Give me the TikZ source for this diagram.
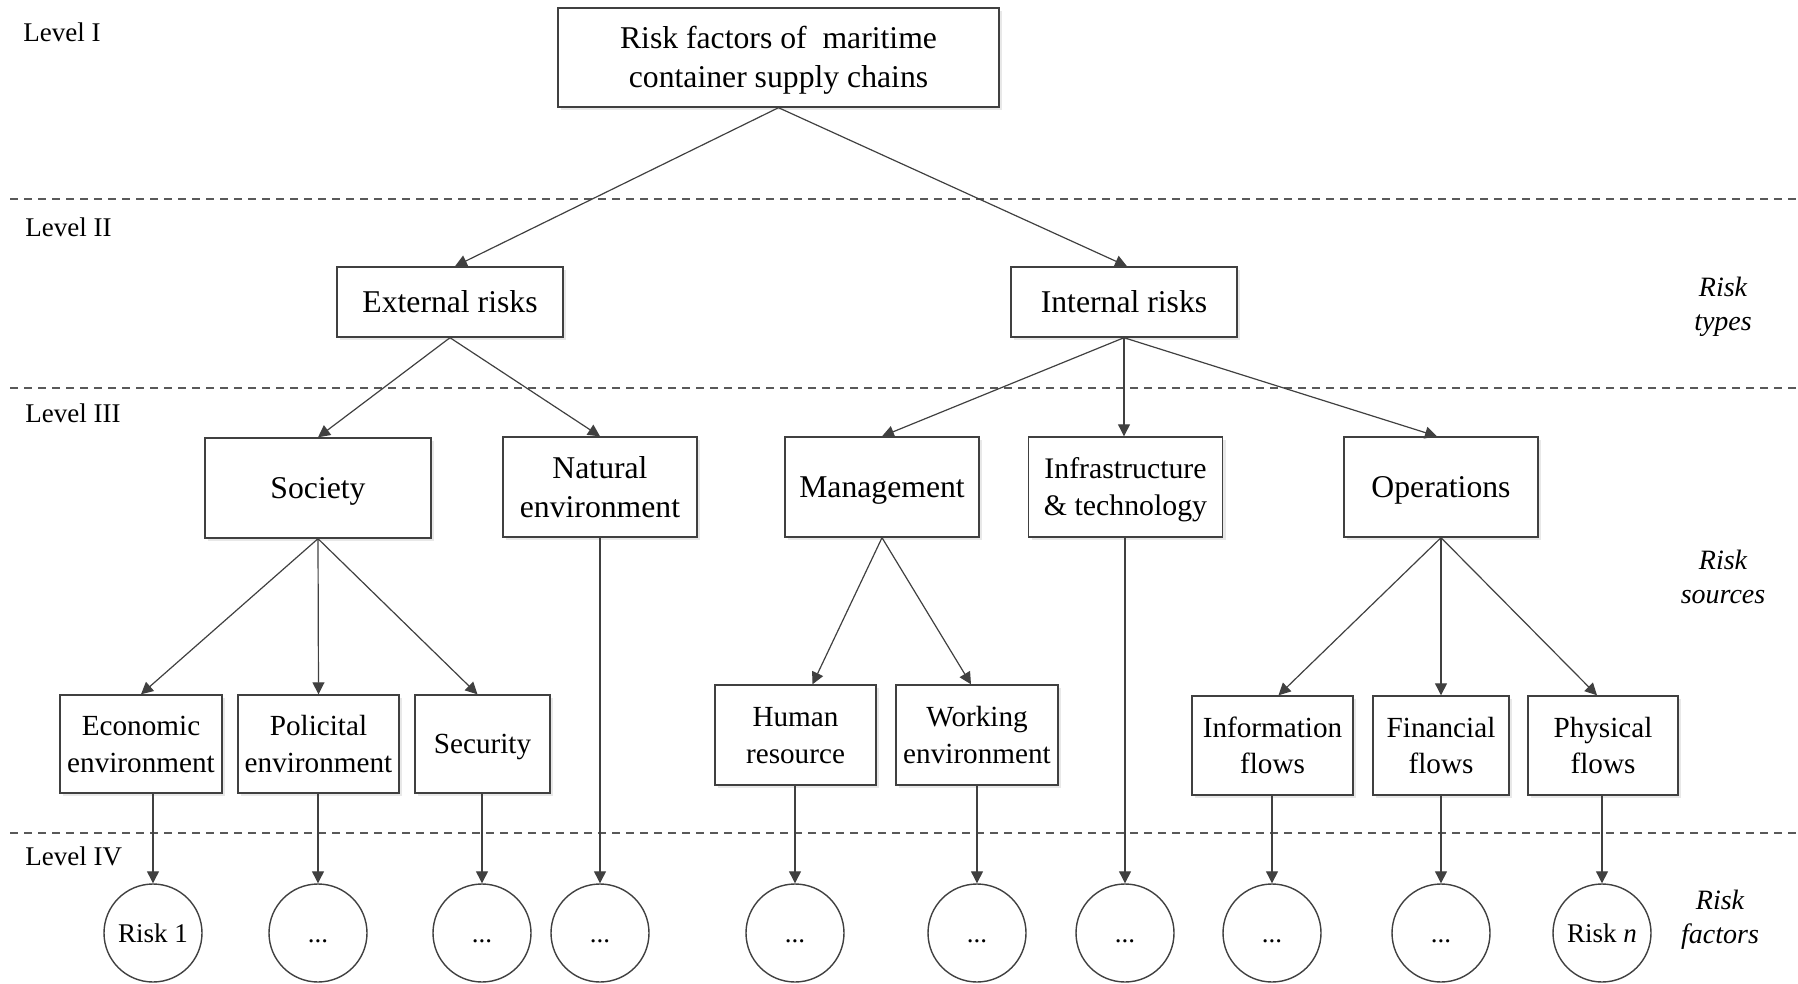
\documentclass[tikz,border=0pt]{standalone}
\usepackage{fontspec}
\setmainfont{Liberation Serif}
\usetikzlibrary{arrows.meta,shadows,calc}
\newcommand\vstrut{\rule[-0.216em]{0pt}{1.107em}}
\begin{document}
\begin{tikzpicture}[x=0.5pt,y=-0.5pt,
  box/.style={draw=black!75, line width=0.7pt, fill=white, align=center, inner sep=0pt,
    font=\fontsize{15.85}{19.5}\selectfont,
    drop shadow={shadow xshift=1.5pt, shadow yshift=-1.5pt, fill=black!18}},
  sbox/.style={box, font=\fontsize{14.6}{18.3}\selectfont},
  riskc/.style={circle, draw=black!75, line width=0.7pt, minimum size=49pt, inner sep=0pt,
    font=\fontsize{13.5}{16}\selectfont},
  lvl/.style={anchor=base west, inner sep=0pt, font=\fontsize{13.5}{16}\selectfont},
  side/.style={align=center, anchor=north, inner sep=0pt, font=\fontsize{14}{17}\selectfont\itshape},
  arr/.style={draw=black!75, line width=0.6pt, -{Triangle[length=6pt,width=6pt]}},
  dline/.style={draw=black!65, line width=0.6pt, dash pattern=on 4pt off 3pt}
]
\useasboundingbox (0,0) rectangle (1798,984);

% dashed separators
\draw[dline] (10,199) -- (1798,199);
\draw[dline] (10,388) -- (1798,388);
\draw[dline] (10,833) -- (1798,833);

% level labels
\node[lvl] (l1) at (23,42) {Level I};
\node[lvl] (l2) at (25,237) {Level II};
\node[lvl] (l3) at (25,422) {Level III};
\node[lvl] (l4) at (25,865) {Level IV};

% side labels
\node[side] (st) at (1723,271) {\vstrut Risk\\types};
\node[side] (ss) at (1723,544) {\vstrut Risk\\sources};
\node[side] (sf) at (1720,884) {\vstrut Risk\\factors};

% level I
\node[box, minimum width=220.5pt, minimum height=49.5pt] (top) at (778.5,57.5)
  {\vstrut Risk factors of \ maritime\\\vstrut container supply chains};

% level II
\node[box, minimum width=113pt, minimum height=35pt] (ext) at (450,302) {\vstrut External risks};
\node[box, minimum width=113pt, minimum height=35pt] (int) at (1124,302) {\vstrut Internal risks};

% level III
\node[box, minimum width=113pt, minimum height=50pt] (soc) at (318,488) {\vstrut Society};
\node[box, minimum width=97pt, minimum height=50pt] (nat) at (600,487) {\vstrut Natural\\\vstrut environment};
\node[box, minimum width=97pt, minimum height=50pt] (man) at (882,487) {\vstrut Management};
\node[box, minimum width=97pt, minimum height=50pt, font=\fontsize{14.9}{18.8}\selectfont] (inf) at (1125.5,487) {\vstrut Infrastructure\\\vstrut \& technology};
\node[box, minimum width=97pt, minimum height=50pt] (ops) at (1441,487) {\vstrut Operations};

% sub-sources
\node[sbox, minimum width=81pt, minimum height=49pt] (eco) at (141,744) {\vstrut Economic\\\vstrut environment};
\node[sbox, minimum width=80.5pt, minimum height=49pt] (pol) at (318.5,744) {\vstrut Policital\\\vstrut environment};
\node[sbox, minimum width=67.5pt, minimum height=49pt] (sec) at (482.5,744) {\vstrut Security};
\node[sbox, minimum width=80.5pt, minimum height=50pt] (hum) at (795.5,735) {\vstrut Human\\\vstrut resource};
\node[sbox, minimum width=81pt, minimum height=50pt] (wor) at (977,735) {\vstrut Working\\\vstrut environment};
\node[sbox, minimum width=80.5pt, minimum height=49.5pt] (info) at (1272.5,745.5) {\vstrut Information\\\vstrut flows};
\node[sbox, minimum width=68pt, minimum height=49.5pt] (fin) at (1441,745.5) {\vstrut Financial\\\vstrut flows};
\node[sbox, minimum width=75pt, minimum height=49.5pt] (phy) at (1603,745.5) {\vstrut Physical\\\vstrut flows};

% risk factors
\node[riskc] (r1) at (153,933) {\vstrut Risk 1};
\node[riskc] (r2) at (318,933) {\vstrut ...};
\node[riskc] (r3) at (482,933) {\vstrut ...};
\node[riskc] (r4) at (600,933) {\vstrut ...};
\node[riskc] (r5) at (795,933) {\vstrut ...};
\node[riskc] (r6) at (977,933) {\vstrut ...};
\node[riskc] (r7) at (1125,933) {\vstrut ...};
\node[riskc] (r8) at (1272,933) {\vstrut ...};
\node[riskc] (r9) at (1441,933) {\vstrut ...};
\node[riskc] (r10) at (1602,933) {\vstrut Risk \textit{n}};

% connectors
\draw[arr] (top.south) -- ($(ext.north)+(5,0)$);
\draw[arr] (top.south) -- ($(int.north)+(3,0)$);
\draw[arr] (ext.south) -- (soc.north);
\draw[arr] (ext.south) -- (nat.north);
\draw[arr] (int.south) -- (man.north);
\draw[arr] (int.south) -- (int.south |- inf.north);
\draw[arr] (int.south) -- ($(ops.north)+(-4,0)$);
\draw[arr] (soc.south) -- (eco.north);
\draw[arr] (soc.south) -- (pol.north);
\draw[arr] (soc.south) -- ($(sec.north)+(-5,0)$);
\draw[arr] (man.south) -- ($(hum.north)+(17,0)$);
\draw[arr] (man.south) -- ($(wor.north)+(-6,0)$);
\draw[arr] (ops.south) -- ($(info.north)+(6,0)$);
\draw[arr] (ops.south) -- (fin.north);
\draw[arr] (ops.south) -- ($(phy.north)+(-6,0)$);

\draw[arr] (eco.south -| r1.north) -- (r1.north);
\draw[arr] (pol.south -| r2.north) -- (r2.north);
\draw[arr] (sec.south -| r3.north) -- (r3.north);
\draw[arr] (nat.south -| r4.north) -- (r4.north);
\draw[arr] (hum.south -| r5.north) -- (r5.north);
\draw[arr] (wor.south -| r6.north) -- (r6.north);
\draw[arr] (inf.south -| r7.north) -- (r7.north);
\draw[arr] (info.south -| r8.north) -- (r8.north);
\draw[arr] (fin.south -| r9.north) -- (r9.north);
\draw[arr] (phy.south -| r10.north) -- (r10.north);
\end{tikzpicture}
\end{document}
